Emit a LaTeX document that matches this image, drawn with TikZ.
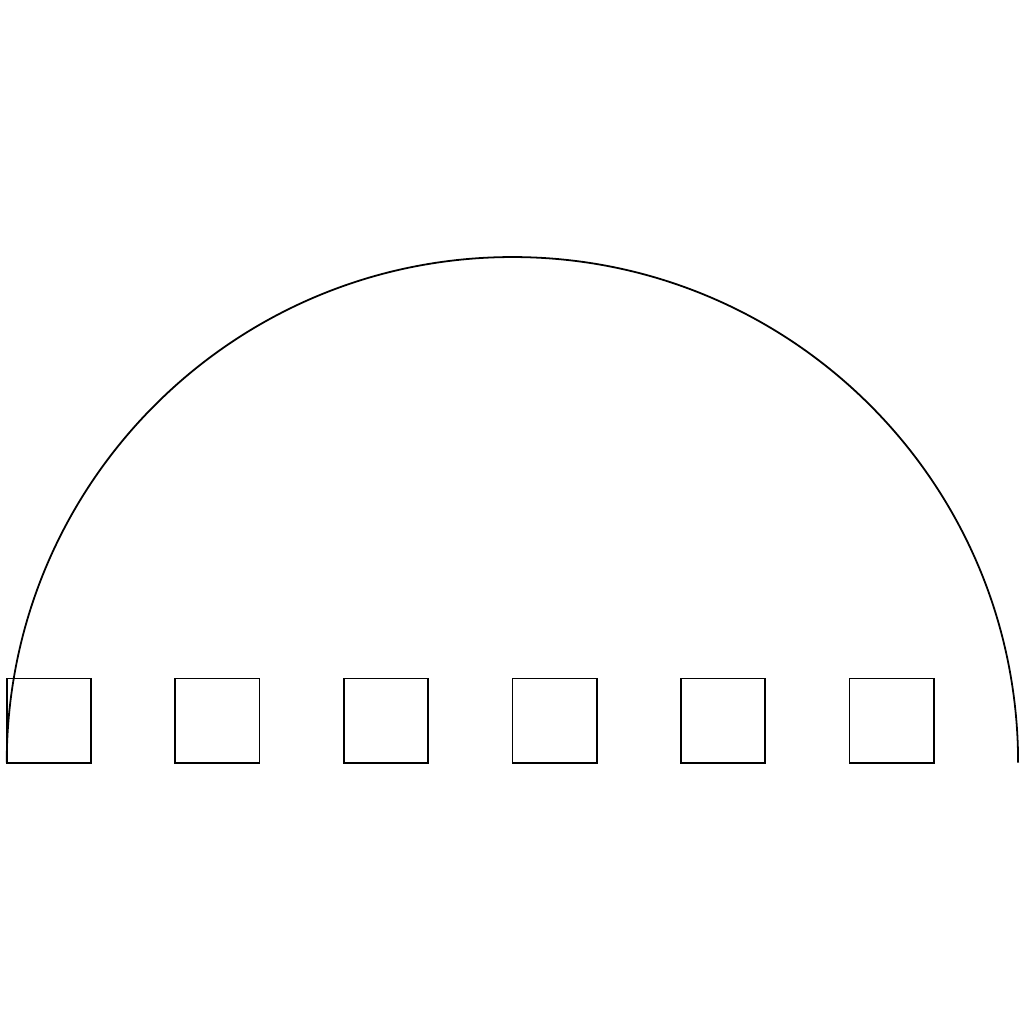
\documentclass[tikz,border=0pt]{standalone}
\usepackage{tikz}
\usetikzlibrary{positioning}

\begin{document}
\begin{tikzpicture}[semithick,
    cell/.style={draw,minimum size=1cm,inner sep=0pt,outer sep=0pt}]
    \useasboundingbox (-0.08,-3.1) rectangle (12.07,9.05);
    % row of cells
    \foreach \i in {1,...,6}
      \node[cell,anchor=south west] (sq\i) at ({2*(\i-1)},0) {};
    % half circle over the row
    \draw (sq1.south west) arc[start angle=180,end angle=0,radius=6];
  \end{tikzpicture}
\end{document}
